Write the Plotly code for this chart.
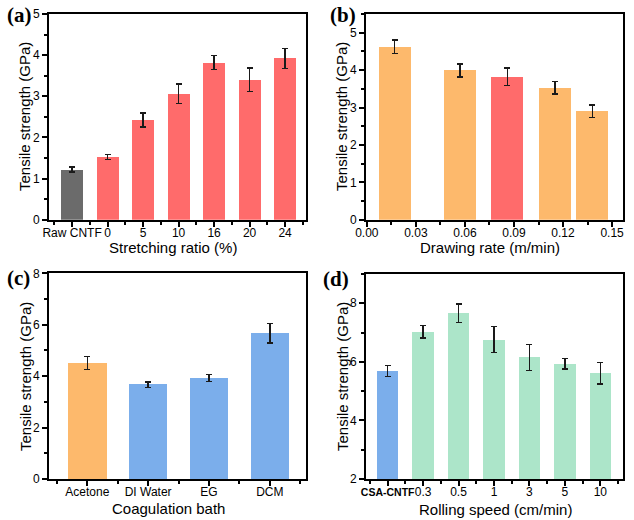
import plotly.graph_objects as go

# ---------------- data ----------------
a_categories = ["Raw CNTF", "0", "5", "10", "16", "20", "24"]
a_values = [1.22, 1.52, 2.42, 3.06, 3.82, 3.40, 3.92]
a_errors = [0.065, 0.06, 0.17, 0.235, 0.17, 0.29, 0.24]
a_colors = ["#6b6b6b", "#ff6b6b", "#ff6b6b", "#ff6b6b", "#ff6b6b", "#ff6b6b", "#ff6b6b"]

b_rates = [0.017, 0.057, 0.086, 0.115, 0.138]
b_values = [4.62, 3.99, 3.82, 3.53, 2.90]
b_errors = [0.18, 0.17, 0.235, 0.17, 0.17]
b_colors = ["#fdb96c", "#fdb96c", "#ff6b6b", "#fdb96c", "#fdb96c"]

c_categories = ["Acetone", "DI Water", "EG", "DCM"]
c_values = [4.51, 3.67, 3.93, 5.67]
c_errors = [0.25, 0.11, 0.13, 0.38]
c_colors = ["#fdb96c", "#7baeeb", "#7baeeb", "#7baeeb"]

d_categories = ["<span style='font-size:10.5px'><b>CSA-CNTF</b></span>", "0.3", "0.5", "1", "3", "5", "10"]
d_values = [5.69, 7.03, 7.66, 6.76, 6.15, 5.94, 5.61]
d_errors = [0.19, 0.22, 0.31, 0.45, 0.44, 0.18, 0.36]
d_colors = ["#7baeeb", "#ace5c9", "#ace5c9", "#ace5c9", "#ace5c9", "#ace5c9", "#ace5c9"]

W, H = 634, 520
FONT = "Liberation Sans, Arial, sans-serif"

fig = go.Figure()

def err(vals):
    return dict(type="data", array=vals, visible=True, color="#1a1a1a",
                thickness=1.4, width=3)

# (a)
fig.add_trace(go.Bar(x=list(range(len(a_categories))), y=a_values, error_y=err(a_errors),
                     marker=dict(color=a_colors, line=dict(width=0)), width=0.62,
                     xaxis="x", yaxis="y", showlegend=False))
# (b)
fig.add_trace(go.Bar(x=b_rates, y=b_values, error_y=err(b_errors),
                     marker=dict(color=b_colors, line=dict(width=0)), width=0.0196,
                     xaxis="x2", yaxis="y2", showlegend=False))
# (c)
fig.add_trace(go.Bar(x=list(range(len(c_categories))), y=c_values, error_y=err(c_errors),
                     marker=dict(color=c_colors, line=dict(width=0)), width=0.635,
                     xaxis="x3", yaxis="y3", showlegend=False))
# (d)
fig.add_trace(go.Bar(x=list(range(len(d_categories))), y=d_values, error_y=err(d_errors),
                     marker=dict(color=d_colors, line=dict(width=0)), width=0.6,
                     xaxis="x4", yaxis="y4", showlegend=False))

def px_x(a, b):
    return [a / W, b / W]

def px_y(top, bottom):
    return [1 - bottom / H, 1 - top / H]

axis_common = dict(showline=True, linecolor="black", linewidth=2, mirror=True,
                   ticks="outside", ticklen=5, tickwidth=1.5, tickcolor="black",
                   showgrid=False, zeroline=False, fixedrange=True, automargin=False,
                   tickangle=0,
                   tickfont=dict(family=FONT, size=12, color="black"))
x_common = dict(axis_common, ticklabelstandoff=-4)
minor = dict(ticks="outside", ticklen=3, tickwidth=1.5, tickcolor="black", showgrid=False)

fig.update_layout(
    width=W, height=H, margin=dict(l=0, r=0, t=0, b=0, autoexpand=False),
    paper_bgcolor="white", plot_bgcolor="white", bargap=0,
    xaxis=dict(x_common, domain=px_x(49, 305.7), range=[-0.65, 6.58],
               tickmode="array", tickvals=list(range(len(a_categories))), ticktext=a_categories,
               minor=dict(minor, tickmode="array", tickvals=[i - 0.5 for i in range(len(a_categories) + 1)]),
               anchor="y"),
    yaxis=dict(axis_common, domain=px_y(14, 219.7), range=[0, 5], dtick=1,
               minor=dict(minor, dtick=0.5), anchor="x"),
    xaxis2=dict(x_common, domain=px_x(366, 622.7), range=[-0.0005, 0.1565],
                tick0=0, dtick=0.03, tickformat=".2f",
                minor=dict(minor, dtick=0.015), anchor="y2"),
    yaxis2=dict(axis_common, domain=px_y(14, 219.7), range=[0, 5.5], dtick=1,
                minor=dict(minor, dtick=0.5), anchor="x2"),
    xaxis3=dict(x_common, domain=px_x(49, 305.7), range=[-0.63, 3.59],
                tickmode="array", tickvals=list(range(len(c_categories))), ticktext=c_categories,
                minor=dict(minor, tickmode="array", tickvals=[i - 0.5 for i in range(len(c_categories) + 1)]),
                anchor="y3"),
    yaxis3=dict(axis_common, domain=px_y(273.3, 479), range=[0, 8], dtick=2,
                minor=dict(minor, dtick=1), anchor="x3"),
    xaxis4=dict(x_common, domain=px_x(366, 622.7), range=[-0.61, 6.63],
                tickmode="array", tickvals=list(range(len(d_categories))), ticktext=d_categories,
                minor=dict(minor, tickmode="array", tickvals=[i - 0.5 for i in range(len(d_categories) + 1)]),
                anchor="y4"),
    yaxis4=dict(axis_common, domain=px_y(274, 479), range=[2, 9], dtick=2, tick0=2,
                minor=dict(minor, dtick=1), anchor="x4"),
)

def ann(text, x, y, size=15, angle=0, family=FONT):
    fig.add_annotation(text=text, x=x / W, y=1 - y / H, xref="paper", yref="paper",
                       showarrow=False, textangle=angle, xanchor="center", yanchor="middle",
                       font=dict(family=family, size=size, color="black"))

# axis titles
ann("Tensile strength (GPa)", 25, 117, angle=-90)
ann("Tensile strength (GPa)", 342, 117, angle=-90)
ann("Tensile strength (GPa)", 25, 377, angle=-90)
ann("Tensile strength (GPa)", 342, 377, angle=-90)
ann("Stretching ratio (%)", 173, 247)
ann("Drawing rate (m/min)", 490, 247)
ann("Coagulation bath", 168, 508)
ann("Rolling speed (cm/min)", 495, 509)

# panel labels
SERIF = "Liberation Serif, Times New Roman, serif"
ann("<b>(a)</b>", 19.5, 15, size=21, family=SERIF)
ann("<b>(b)</b>", 342.5, 15, size=21, family=SERIF)
ann("<b>(c)</b>", 18.5, 278, size=21, family=SERIF)
ann("<b>(d)</b>", 335.5, 279, size=21, family=SERIF)

fig.write_html("out.html", config={"displayModeBar": False},
               post_script="document.body.style.margin='0';document.body.style.overflow='hidden';")
